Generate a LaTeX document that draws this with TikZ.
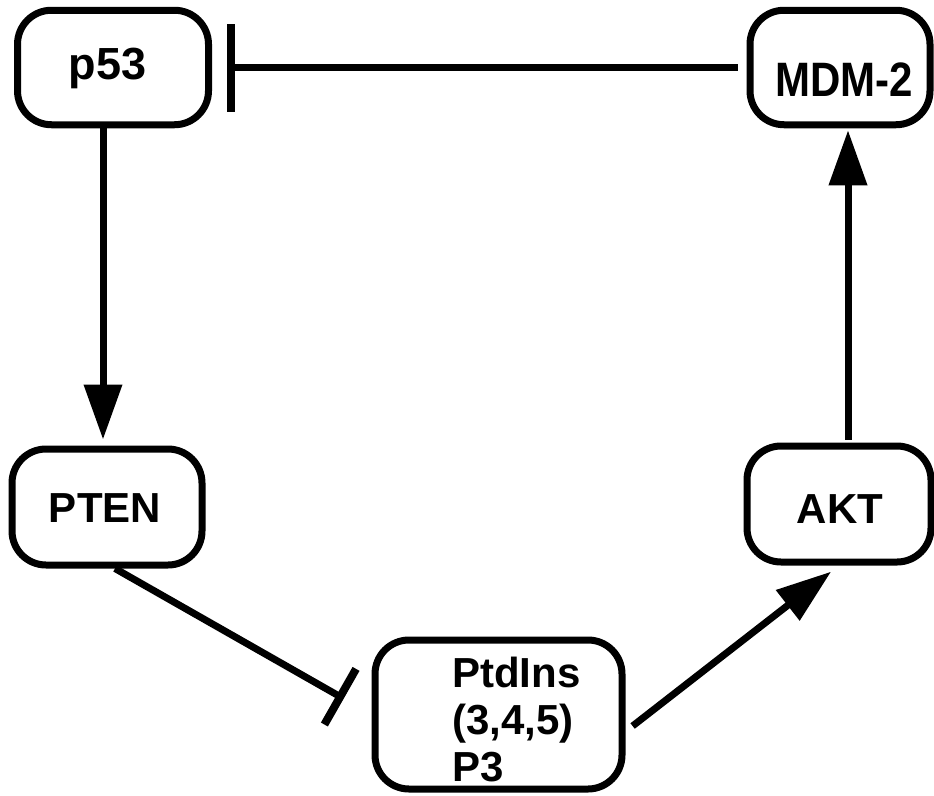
\documentclass[tikz,border=0pt]{standalone}
\usepackage{fontspec}
\setmainfont{Liberation Sans}
\usetikzlibrary{arrows.meta}

\begin{document}
\begin{tikzpicture}[x=1pt,y=-1pt,
  box/.style={draw, line width=7pt, rounded corners=34pt, inner sep=0pt},
  lbl/.style={inner sep=0pt, font=\fontsize{42}{47}\selectfont\bfseries},
  act/.style={line width=7pt, -{Triangle[length=55pt,width=37pt]}},
  inh/.style={line width=7pt, -{Bar[width=#1, line width=8pt]}}
]
\useasboundingbox (0,0) rectangle (934,795);

% boxes
\node[box, minimum width=191pt, minimum height=114.5pt] (p53) at (113,67.5) {};
\node[box, minimum width=180pt, minimum height=114.5pt] (mdm) at (840,67.5) {};
\node[box, minimum width=190pt, minimum height=116pt] (pten) at (107,507) {};
\node[box, minimum width=184pt, minimum height=116pt] (akt) at (839,504) {};
\node[box, minimum width=247pt, minimum height=149pt] (ptd) at (498.5,714.5) {};

% labels
\node[lbl, font=\fontsize{45}{50}\selectfont\bfseries] (p53txt) at ([shift={(-5.5,1)}]p53.center) {p53};
\node[lbl] (mdmtxt) at ([shift={(4,12.5)}]mdm.center) {\scalebox{1}[1.15]{MDM-2}};
\node[lbl] (ptentxt) at ([shift={(-2,1)}]pten.center) {PTEN};
\node[lbl] (akttxt) at ([shift={(1,5)}]akt.center) {AKT};
\node[lbl, align=left, anchor=west] (ptdtxt) at ([shift={(-46.5,5.5)}]ptd.center) {PtdIns\\(3,4,5)\\P3};

% connectors
\draw[inh=88pt, shorten <=9pt, shorten >=15pt] (mdm.west) -- (p53.east);
\draw[act, shorten >=6pt] ([xshift=-10pt]p53.south) -- ([xshift=-10pt]p53.south |- pten.north);
\draw[inh=64pt, shorten >=32pt] ([xshift=8pt]pten.south) -- (ptd.west);
\draw[act, shorten <=9pt, shorten >=10pt] ([yshift=-17pt]ptd.east) -- (akt.south);
\draw[act, shorten <=3pt, shorten >=2pt] ([xshift=9pt]akt.north) -- ([xshift=9pt]akt.north |- mdm.south);
\end{tikzpicture}
\end{document}
